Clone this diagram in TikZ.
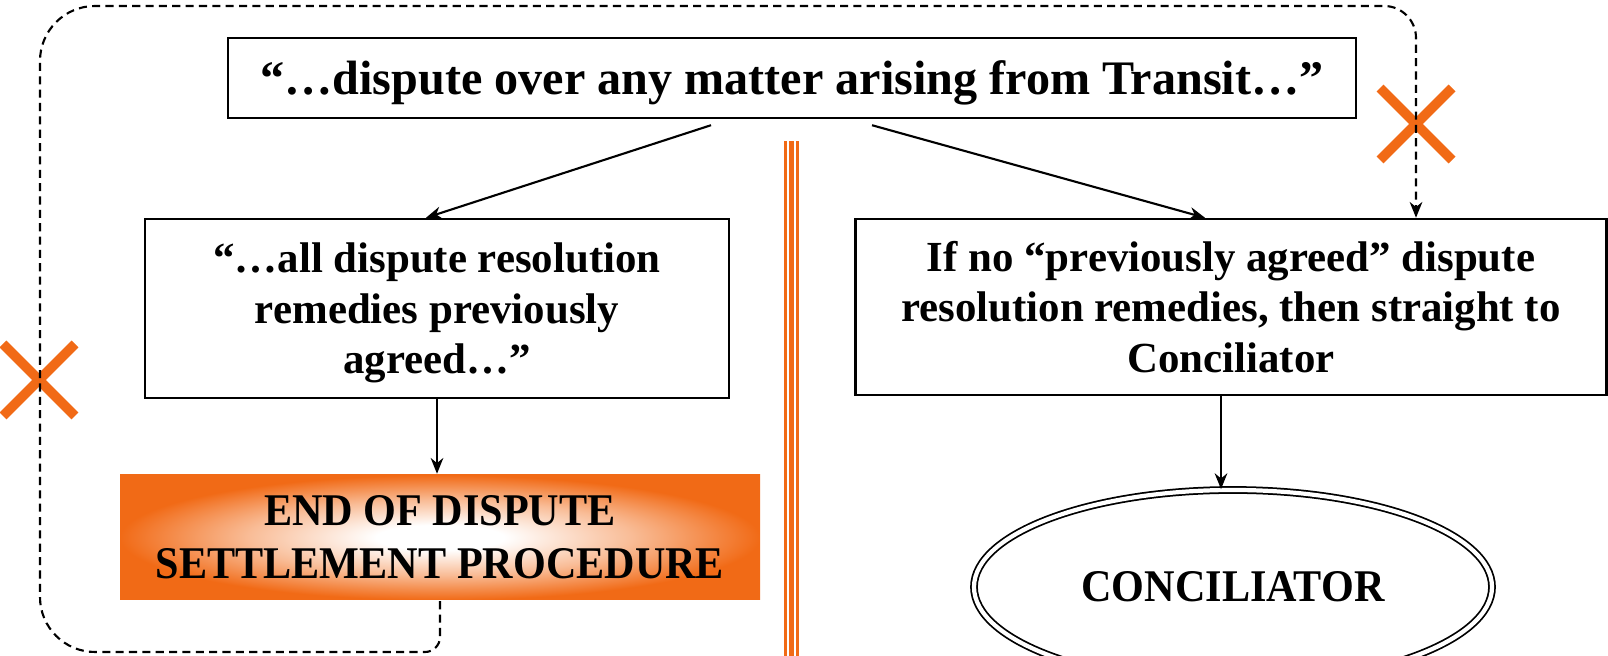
\documentclass[tikz,border=0pt]{standalone}
\usepackage{fontspec}
\setmainfont{Liberation Serif}
\newfontfamily\narrowfont[FakeStretch=0.93]{Liberation Serif}
\usetikzlibrary{calc,shapes.geometric,arrows.meta}
\definecolor{xorange}{RGB}{241,106,22}
\pgfdeclareradialshading{endshade}{\pgfpoint{0bp}{0bp}}{color(0bp)=(white); color(5bp)=(white); color(15bp)=(xorange!45!white); color(25bp)=(xorange); color(50bp)=(xorange)}

\begin{document}
\begin{tikzpicture}[
        box/.style={draw, line width=0.7pt, align=center, inner sep=0pt,
            font=\fontsize{12.2}{14.4}\selectfont\bfseries},
        bigbox/.style={box, font=\fontsize{12.9}{15}\selectfont\narrowfont\bfseries},
        link/.style={-{Stealth[length=4.5pt,width=3.6pt]}, line width=0.6pt},
        loop/.style={link, dash pattern=on 2.3pt off 1.5pt},
        cross/.style={xorange, line width=2.8pt}]
    \useasboundingbox (0,0) rectangle (16.08,6.56);
    \def\xs{0.36}

    \node[box, minimum width=11.28cm, minimum height=0.8cm, text depth=0pt,
        font=\fontsize{13.7}{16}\selectfont\bfseries] (clause) at (7.92,5.78)
        {“…dispute over any matter arising from Transit…”};
    \node[box, minimum width=5.84cm, minimum height=1.79cm, text depth=0pt] (agreed) at (4.37,3.475)
        {“…all dispute resolution\\remedies previously\\agreed…”};
    \node[box, minimum width=7.51cm, minimum height=1.76cm] (noagreed) at (12.31,3.49)
        {If no “previously agreed” dispute\\resolution remedies, then straight to\\Conciliator};
    \node[bigbox, draw=none, shade, shading=endshade, minimum width=6.4cm, minimum height=1.25cm]
        (endproc) at (4.40,1.185) {END OF DISPUTE\\SETTLEMENT PROCEDURE};
    \node[bigbox, ellipse, double, double distance=1.2pt, line width=0.5pt,
        minimum width=5.18cm, minimum height=1.94cm] (concil) at (12.33,0.69) {CONCILIATOR};

    \foreach \dx/\w in {-0.06/0.03, 0/0.05, 0.06/0.03}
        \draw[xorange, line width=\w cm] (7.915+\dx,0) -- (7.915+\dx,5.15);

    \draw[link] ($(clause.south)+(-0.81,-0.06)$) -- ($(agreed.north)+(-0.11,0)$);
    \draw[link] ($(clause.south)+(0.80,-0.06)$) -- ($(noagreed.north)+(-0.26,0)$);
    \draw[link] (agreed.south) -- (agreed.south |- endproc.north);
    \draw[link] ([xshift=-0.1cm]noagreed.south) -- ([xshift=-0.1cm]noagreed.south |- concil.north);

    \foreach \cx/\cy in {0.39/2.76, 14.16/5.32}
        \draw[cross] (\cx-\xs,\cy-\xs) -- (\cx+\xs,\cy+\xs) (\cx-\xs,\cy+\xs) -- (\cx+\xs,\cy-\xs);

    \draw[loop] (endproc.south) [rounded corners=0.15cm] -- (4.40,0.04)
        [rounded corners=0.55cm] -- (0.40,0.04) -- (0.40,6.50)
        [rounded corners=0.32cm] -- (14.16,6.50) -- ([xshift=1.85cm]noagreed.north);
\end{tikzpicture}
\end{document}
